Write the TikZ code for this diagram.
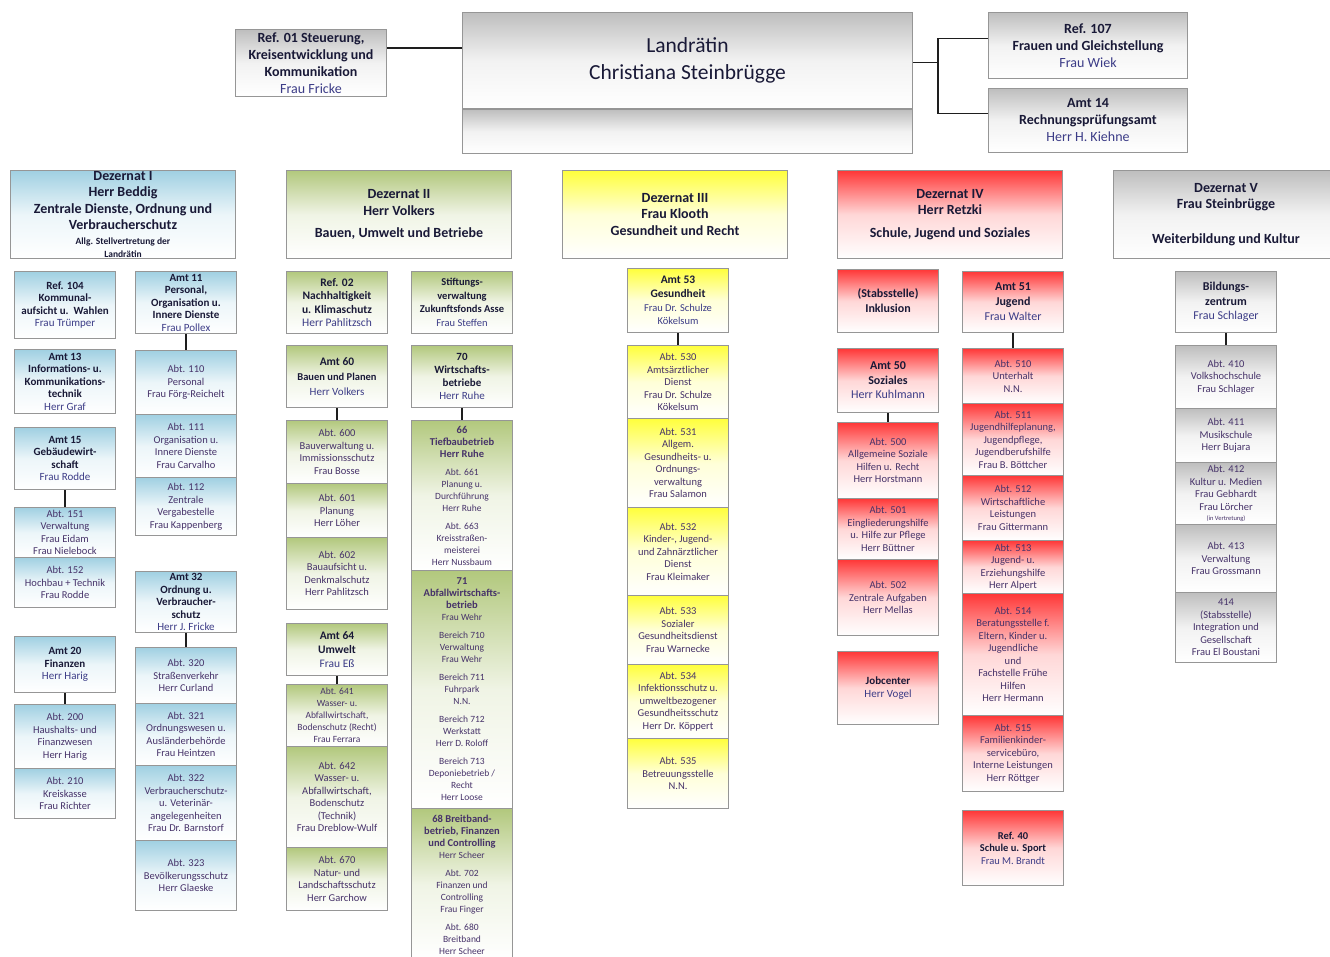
\documentclass[tikz,border=0pt]{standalone}
\usepackage{fontspec}
\setmainfont{Carlito}
\usepackage{tikz}

\definecolor{boxline}{RGB}{150,150,150}
\definecolor{linecol}{RGB}{30,30,30}
\definecolor{titlecol}{RGB}{25,25,55}
\definecolor{namecol}{RGB}{60,60,135}
\definecolor{abtcol}{RGB}{70,50,105}
\definecolor{topgray}{RGB}{190,190,190}
\definecolor{dezI}{RGB}{160,208,226}
\definecolor{dezII}{RGB}{178,200,125}
\definecolor{dezIII}{RGB}{255,255,60}
\definecolor{dezIV}{RGB}{255,55,55}
\definecolor{dezV}{RGB}{190,190,190}
\newcommand{\hdline}[1]{{\fontsize{10.5}{12}\selectfont\bfseries #1}}

\begin{document}
\begin{tikzpicture}[x=1pt, y=-1pt,
	box/.style={draw=boxline, line width=1pt, anchor=north west, align=center, inner sep=1pt, text=titlecol, top color=#1, bottom color=white, middle color=#1!20!white},
	dez/.style={box=#1, minimum width=225pt, minimum height=88pt, font=\fontsize{14}{16.5}\selectfont\bfseries},
	topref/.style={box=topgray, minimum width=199pt, font=\fontsize{14}{17}\selectfont\bfseries},
	amt/.style={box=#1, minimum width=101pt, font=\fontsize{11}{12.5}\selectfont\bfseries},
	abt/.style={box=#1, minimum width=101pt, text=abtcol, font=\fontsize{10.5}{12.5}\selectfont},
	tall/.style={abt=#1, font=\fontsize{9.5}{12}\selectfont},
	conn/.style={draw=linecol, line width=1.2pt}]
	\useasboundingbox (0,0) rectangle (1330,956);

	% Landraetin and staff units
	\node[box=topgray, minimum width=450pt, minimum height=96pt, font=\fontsize{21.5}{27}\selectfont] (land) at (462,12) {Landrätin\\Christiana Steinbrügge};
	\node[box=topgray, minimum width=450pt, minimum height=44pt, anchor=north] (landfoot) at (land.south) {};
	\node[box=topgray, minimum width=151pt, minimum height=67pt, font=\fontsize{14}{17}\selectfont\bfseries] (ref01) at (235,29) {Ref. 01 Steuerung,\\Kreisentwicklung und\\Kommunikation\\\textcolor{namecol}{\mdseries Frau Fricke}};
	\node[topref, minimum height=66pt] (ref107) at (988,12) {Ref. 107\\Frauen und Gleichstellung\\\textcolor{namecol}{\mdseries Frau Wiek}};
	\node[topref, minimum height=64pt] (amt14) at (988,88) {Amt 14\\Rechnungsprüfungsamt\\\textcolor{namecol}{\mdseries Herr H. Kiehne}};
	\draw[conn] ([yshift=15pt]ref01.east) -- ([yshift=15pt]ref01.east -| land.west);
	\draw[conn] ([yshift=-2pt]land.east) -- ++(25,0) coordinate (fork);
	\draw[conn] ([yshift=7pt]ref107.west) -| (fork) |- ([yshift=7pt]amt14.west);

	% Dezernate
	\node[dez=dezI, inner ysep=0pt] (dezI) at (10,170) {Dezernat I\\Herr Beddig\\Zentrale Dienste, Ordnung und\\Verbraucherschutz\\[-1.5pt]{\fontsize{9.5}{11}\selectfont Allg. Stellvertretung der}\\[-3.5pt]{\fontsize{9.5}{11}\selectfont Landrätin}};
	\node[dez=dezII] (dezII) at (286,170) {Dezernat II\\Herr Volkers\\[6pt]Bauen, Umwelt und Betriebe};
	\node[dez=dezIII] (dezIII) at (562,170) {Dezernat III\\Frau Klooth\\Gesundheit und Recht};
	\node[dez=dezIV] (dezIV) at (837,170) {Dezernat IV\\Herr Retzki\\[6pt]Schule, Jugend und Soziales};
	\node[dez=dezV] (dezV) at (1113,170) {Dezernat V\\Frau Steinbrügge\\[18pt]Weiterbildung und Kultur};

	% Dezernat I
	\node[amt=dezI, minimum height=67pt] (ref104) at (14,271) {Ref. 104\\Kommunal-\\aufsicht u.\ \ Wahlen\\\textcolor{namecol}{\mdseries Frau Trümper}};
	\node[amt=dezI, minimum height=64pt] (amt13) at (14,349) {Amt 13\\Informations- u.\\Kommunikations-\\technik\\\textcolor{namecol}{\mdseries Herr Graf}};
	\node[amt=dezI, minimum height=62pt] (amt15) at (14,427) {Amt 15\\Gebäudewirt-\\schaft\\\textcolor{namecol}{\mdseries Frau Rodde}};
	\node[abt=dezI, minimum height=50pt] (abt151) at (14,507) {Abt. 151\\Verwaltung\\Frau Eidam\\Frau Nielebock};
	\node[abt=dezI, minimum height=50pt] (abt152) at (14,557) {Abt. 152\\Hochbau + Technik\\Frau Rodde};
	\node[amt=dezI, minimum height=56pt] (amt20) at (14,636) {Amt 20\\Finanzen\\\textcolor{namecol}{\mdseries Herr Harig}};
	\node[abt=dezI, minimum height=64pt] (abt200) at (14,704) {Abt. 200\\Haushalts- und\\Finanzwesen\\Herr Harig};
	\node[abt=dezI, minimum height=50pt] (abt210) at (14,768) {Abt. 210\\Kreiskasse\\Frau Richter};
	\node[amt=dezI, minimum height=62pt] (amt11) at (135,271) {Amt 11\\Personal,\\Organisation u.\\Innere Dienste\\\textcolor{namecol}{\mdseries Frau Pollex}};
	\node[abt=dezI, minimum height=64pt] (abt110) at (135,350) {Abt. 110\\Personal\\Frau Förg-Reichelt};
	\node[abt=dezI, minimum height=63pt] (abt111) at (135,414) {Abt. 111\\Organisation u.\\Innere Dienste\\Frau Carvalho};
	\node[abt=dezI, minimum height=58pt] (abt112) at (135,477) {Abt. 112\\Zentrale\\Vergabestelle\\Frau Kappenberg};
	\node[amt=dezI, minimum height=61pt] (amt32) at (135,571) {Amt 32\\Ordnung u.\\Verbraucher-\\schutz\\\textcolor{namecol}{\mdseries Herr J. Fricke}};
	\node[abt=dezI, minimum height=56pt] (abt320) at (135,647) {Abt. 320\\Straßenverkehr\\Herr Curland};
	\node[abt=dezI, minimum height=62pt] (abt321) at (135,703) {Abt. 321\\Ordnungswesen u.\\Ausländerbehörde\\Frau Heintzen};
	\node[abt=dezI, minimum height=75pt] (abt322) at (135,765) {Abt. 322\\Verbraucherschutz-\\u. Veterinär-\\angelegenheiten\\Frau Dr. Barnstorf};
	\node[abt=dezI, minimum height=70pt] (abt323) at (135,840) {Abt. 323\\Bevölkerungsschutz\\Herr Glaeske};

	% Dezernat II
	\node[amt=dezII, minimum height=62pt, font=\fontsize{11.5}{13.5}\selectfont\bfseries] (ref02) at (286,271) {Ref. 02\\Nachhaltigkeit\\u. Klimaschutz\\\textcolor{namecol}{\mdseries Herr Pahlitzsch}};
	\node[amt=dezII, minimum height=62pt, font=\fontsize{10.5}{13.5}\selectfont\bfseries] (stift) at (411,271) {Stiftungs-\\verwaltung\\Zukunftsfonds Asse\\\textcolor{namecol}{\mdseries Frau Steffen}};
	\node[amt=dezII, minimum height=62pt, font=\fontsize{11.5}{15}\selectfont\bfseries] (amt60) at (286,345) {Amt 60\\{\fontsize{10.5}{12}\selectfont Bauen und Planen}\\\textcolor{namecol}{\mdseries\fontsize{11}{13}\selectfont Herr Volkers}};
	\node[abt=dezII, minimum height=63pt] (abt600) at (286,420) {Abt. 600\\Bauverwaltung u.\\Immissionsschutz\\Frau Bosse};
	\node[abt=dezII, minimum height=54pt] (abt601) at (286,483) {Abt. 601\\Planung\\Herr Löher};
	\node[abt=dezII, minimum height=72pt] (abt602) at (286,537) {Abt. 602\\Bauaufsicht u.\\Denkmalschutz\\Herr Pahlitzsch};
	\node[amt=dezII, minimum height=52pt, font=\fontsize{11.5}{14}\selectfont\bfseries] (amt64) at (286,623) {Amt 64\\Umwelt\\\textcolor{namecol}{\mdseries Frau Eß}};
	\node[abt=dezII, minimum height=62pt, font=\fontsize{9.5}{12}\selectfont] (abt641) at (286,684) {Abt. 641\\Wasser- u.\\Abfallwirtschaft,\\Bodenschutz (Recht)\\Frau Ferrara};
	\node[abt=dezII, minimum height=101pt] (abt642) at (286,746) {Abt. 642\\Wasser- u.\\Abfallwirtschaft,\\Bodenschutz\\(Technik)\\Frau Dreblow-Wulf};
	\node[abt=dezII, minimum height=63pt] (abt670) at (286,847) {Abt. 670\\Natur- und\\Landschaftsschutz\\Herr Garchow};
	\node[amt=dezII, minimum height=62pt, font=\fontsize{11}{13}\selectfont\bfseries] (wb70) at (411,345) {70\\Wirtschafts-\\betriebe\\\textcolor{namecol}{\mdseries Herr Ruhe}};
	\node[tall=dezII, minimum height=150pt] (tb66) at (411,420) {\hdline{66}\\\hdline{Tiefbaubetrieb}\\\hdline{Herr Ruhe}\\[6pt]Abt. 661\\Planung u.\\Durchführung\\Herr Ruhe\\[6pt]Abt. 663\\Kreisstraßen-\\meisterei\\Herr Nussbaum};
	\node[tall=dezII, minimum height=238pt] (aw71) at (411,570) {\hdline{71}\\\hdline{Abfallwirtschafts-}\\\hdline{betrieb}\\Frau Wehr\\[6pt]Bereich 710\\Verwaltung\\Frau Wehr\\[6pt]Bereich 711\\Fuhrpark\\N.N.\\[6pt]Bereich 712\\Werkstatt\\Herr D. Roloff\\[6pt]Bereich 713\\Deponiebetrieb /\\Recht\\Herr Loose};
	\node[tall=dezII, minimum height=152pt] (bb68) at (411,808) {\hdline{68 Breitband-}\\\hdline{betrieb, Finanzen}\\\hdline{und Controlling}\\Herr Scheer\\[6pt]Abt. 702\\Finanzen und\\Controlling\\Frau Finger\\[6pt]Abt. 680\\Breitband\\Herr Scheer};

	% Dezernat III
	\node[amt=dezIII, minimum height=64pt, font=\fontsize{11.5}{14}\selectfont\bfseries] (amt53) at (627,268) {Amt 53\\Gesundheit\\\textcolor{namecol}{\mdseries\fontsize{10.5}{13}\selectfont Frau Dr. Schulze}\\[-1pt]\textcolor{namecol}{\mdseries\fontsize{10.5}{13}\selectfont Kökelsum}};
	\node[abt=dezIII, minimum height=73pt] (abt530) at (627,345) {Abt. 530\\Amtsärztlicher\\Dienst\\Frau Dr. Schulze\\Kökelsum};
	\node[abt=dezIII, minimum height=89pt] (abt531) at (627,418) {Abt. 531\\Allgem.\\Gesundheits- u.\\Ordnungs-\\verwaltung\\Frau Salamon};
	\node[abt=dezIII, minimum height=88pt] (abt532) at (627,507) {Abt. 532\\Kinder-, Jugend-\\und Zahnärztlicher\\Dienst\\Frau Kleimaker};
	\node[abt=dezIII, minimum height=69pt] (abt533) at (627,595) {Abt. 533\\Sozialer\\Gesundheitsdienst\\Frau Warnecke};
	\node[abt=dezIII, minimum height=74pt] (abt534) at (627,664) {Abt. 534\\Infektionsschutz u.\\umweltbezogener\\Gesundheitsschutz\\Herr Dr. Köppert};
	\node[abt=dezIII, minimum height=70pt] (abt535) at (627,738) {Abt. 535\\Betreuungsstelle\\N.N.};

	% Dezernat IV
	\node[amt=dezIV, minimum height=63pt, font=\fontsize{12}{15}\selectfont\bfseries] (inkl) at (837,269) {(Stabsstelle)\\Inklusion};
	\node[amt=dezIV, minimum height=64pt, font=\fontsize{12}{14.5}\selectfont\bfseries] (amt50) at (837,348) {Amt 50\\Soziales\\\textcolor{namecol}{\mdseries Herr Kuhlmann}};
	\node[abt=dezIV, minimum height=76pt] (abt500) at (837,422) {Abt. 500\\Allgemeine Soziale\\Hilfen u. Recht\\Herr Horstmann};
	\node[abt=dezIV, minimum height=61pt] (abt501) at (837,498) {Abt. 501\\Eingliederungshilfe\\u. Hilfe zur Pflege\\Herr Büttner};
	\node[abt=dezIV, minimum height=76pt] (abt502) at (837,559) {Abt. 502\\Zentrale Aufgaben\\Herr Mellas};
	\node[amt=dezIV, minimum height=73pt] (jobc) at (837,651) {Jobcenter\\\textcolor{namecol}{\mdseries Herr Vogel}};
	\node[amt=dezIV, minimum height=61pt, font=\fontsize{12}{15}\selectfont\bfseries] (amt51) at (962,271) {Amt 51\\Jugend\\\textcolor{namecol}{\mdseries Frau Walter}};
	\node[abt=dezIV, minimum height=55pt] (abt510) at (962,348) {Abt. 510\\Unterhalt\\N.N.};
	\node[abt=dezIV, minimum height=72pt] (abt511) at (962,403) {Abt. 511\\Jugendhilfeplanung,\\Jugendpflege,\\Jugendberufshilfe\\Frau B. Böttcher};
	\node[abt=dezIV, minimum height=65pt] (abt512) at (962,475) {Abt. 512\\Wirtschaftliche\\Leistungen\\Frau Gittermann};
	\node[abt=dezIV, minimum height=53pt] (abt513) at (962,540) {Abt. 513\\Jugend- u.\\Erziehungshilfe\\Herr Alpert};
	\node[abt=dezIV, minimum height=122pt] (abt514) at (962,593) {Abt. 514\\Beratungsstelle f.\\Eltern, Kinder u.\\Jugendliche\\und\\Fachstelle Frühe\\Hilfen\\Herr Hermann};
	\node[abt=dezIV, minimum height=76pt] (abt515) at (962,715) {Abt. 515\\Familienkinder-\\servicebüro,\\Interne Leistungen\\Herr Röttger};
	\node[amt=dezIV, minimum height=75pt, font=\fontsize{10.5}{12.5}\selectfont\bfseries] (ref40) at (962,810) {Ref. 40\\Schule u. Sport\\\textcolor{namecol}{\mdseries Frau M. Brandt}};

	% Dezernat V
	\node[amt=dezV, minimum height=61pt, font=\fontsize{12}{14.5}\selectfont\bfseries] (bildz) at (1175,271) {Bildungs-\\zentrum\\\textcolor{namecol}{\mdseries Frau Schlager}};
	\node[abt=dezV, minimum height=63pt] (abt410) at (1175,345) {Abt. 410\\Volkshochschule\\Frau Schlager};
	\node[abt=dezV, minimum height=54pt] (abt411) at (1175,408) {Abt. 411\\Musikschule\\Herr Bujara};
	\node[abt=dezV, minimum height=62pt] (abt412) at (1175,462) {Abt. 412\\Kultur u. Medien\\Frau Gebhardt\\Frau Lörcher\\[-2pt]{\fontsize{6.5}{8}\selectfont (in Vertretung)}};
	\node[abt=dezV, minimum height=68pt] (abt413) at (1175,524) {Abt. 413\\Verwaltung\\Frau Grossmann};
	\node[abt=dezV, minimum height=70pt] (abt414) at (1175,592) {414\\(Stabsstelle)\\Integration und\\Gesellschaft\\Frau El Boustani};

	\foreach \a/\b in {amt15/abt151, amt20/abt200, amt11/abt110, amt32/abt320, amt60/abt600, wb70/tb66, amt64/abt641, amt53/abt530, amt51/abt510, amt50/abt500, bildz/abt410}
		\draw[conn] (\a) -- (\b);
\end{tikzpicture}
\end{document}
